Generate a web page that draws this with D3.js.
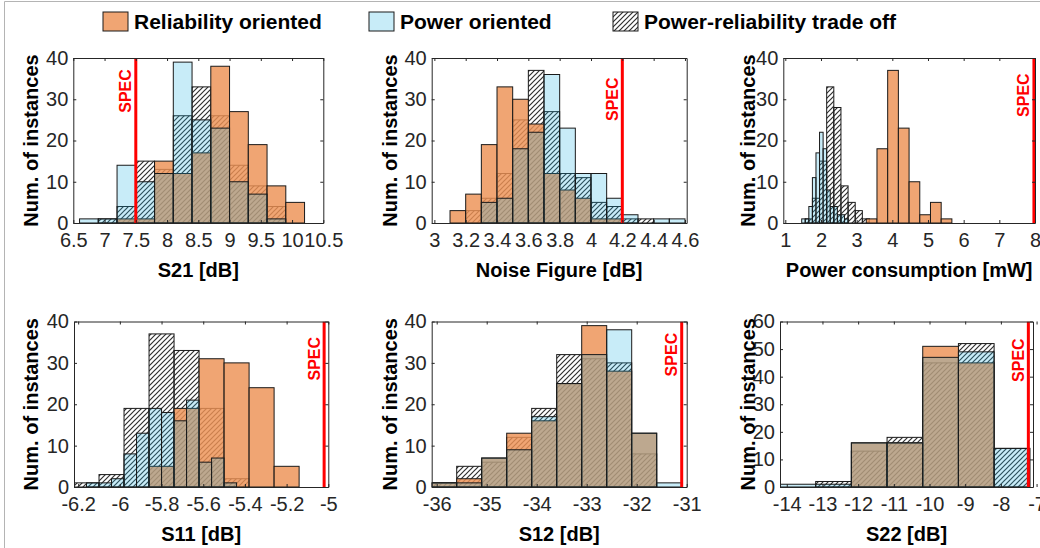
<!DOCTYPE html>
<html>
<head>
<meta charset="utf-8">
<script src="https://cdn.jsdelivr.net/npm/d3@7"></script>
<style>
  body { margin: 0; background: #fff; }
</style>
</head>
<body>
<div id="chart"></div>
<script>
const width = 1040
const height = 548
const font = "'Liberation Sans', Arial, Helvetica, sans-serif"

const seriesNames = ["Reliability oriented", "Power oriented", "Power-reliability trade off"]

const yLabels40 = ["0", "10", "20", "30", "40"]
const yLabels60 = ["0", "10", "20", "30", "40", "50", "60"]

// S21 [dB], 0.3 wide bins from 6.6
const s21Labels = ["6.5", "7", "7.5", "8", "8.5", "9", "9.5", "10", "10.5"]
const s21Rel   = [0, 0, 1, 1, 15, 12, 17, 38, 27, 19, 9, 5]
const s21Pow   = [1, 1, 14, 10, 12, 39, 25, 23, 10, 7, 1, 0]
const s21Trade = [0, 1, 4, 15, 13, 26, 33, 26, 14, 9, 4, 0]
const s21Spec = 7.5

// Noise Figure [dB], 0.1 wide bins from 3.1
const nfLabels = ["3", "3.2", "3.4", "3.6", "3.8", "4", "4.2", "4.4", "4.6"]
const nfRel   = [3, 7, 19, 33, 30, 24, 12, 8, 6, 1, 1, 0, 0, 0, 0]
const nfPow   = [0, 0, 5, 6, 18, 22, 36, 23, 12, 12, 6, 2, 0, 1, 1]
const nfTrade = [0, 3, 6, 12, 25, 37, 27, 12, 11, 5, 4, 1, 1, 0, 0]
const nfSpec = 4.2

// Power consumption [mW], each series has its own bins
const pcLabels = ["1", "2", "3", "4", "5", "6", "7", "8"]
const pcRel   = [1, 18, 37, 23, 10, 2, 5, 1]                   // 0.3 from 3.27
const pcPow   = [1, 1, 4, 11, 17, 22, 18, 8, 4, 4, 2, 2, 1]     // 0.1 from 1.46
const pcTrade = [1, 6, 15, 33, 28, 9, 5, 3, 1]                 // 0.2 from 1.56
const pcSpec = 7.97

// S11 [dB]
const s11Labels = ["-6.2", "-6", "-5.8", "-5.6", "-5.4", "-5.2", "-5"]
const s11Rel   = [5, 19, 31, 30, 24, 5]                         // 0.12 from -5.86
const s11Pow   = [0, 1, 1, 2, 8, 13, 19, 18, 16, 21, 6, 7, 1]   // 0.06 from -6.22
const s11Trade = [1, 3, 19, 37, 33, 19, 2]                      // 0.12 from -6.22
const s11Spec = -5.02

// S12 [dB], 0.5 wide bins from -36.1
const s12Labels = ["-36", "-35", "-34", "-33", "-32", "-31"]
const s12Rel   = [1, 2, 7, 13, 16, 25, 39, 28, 13, 0]
const s12Pow   = [1, 1, 7, 9, 17, 25, 32, 38, 13, 1]
const s12Trade = [1, 5, 6, 12, 19, 32, 31, 30, 8, 0]
const s12Spec = -31.1

// S22 [dB], 1.0 wide bins from -14.19
const s22Labels = ["-14", "-13", "-12", "-11", "-10", "-9", "-8", "-7"]
const s22Rel   = [0, 0, 16, 16, 51, 45, 0]
const s22Pow   = [1, 1, 16, 16, 47, 49, 14]
const s22Trade = [0, 2, 13, 18, 45, 52, 14]
const s22Spec = -7.23

const bins = (start, w, counts) =>
  counts.map((n, i) => ({x0: start + i * w, x1: start + (i + 1) * w, n}))

const panels = [
  {box: [73.3, 323.3, 58, 223], xDomain: [6.5, 10.5], xLabels: s21Labels, yLabels: yLabels40,
   title: "S21 [dB]", spec: s21Spec, specY: 32, ylabX: 38,
   series: [{kind: "trade", start: 6.6, w: 0.3, n: s21Trade},
            {kind: "rel", start: 6.6, w: 0.3, n: s21Rel},
            {kind: "pow", start: 6.6, w: 0.3, n: s21Pow}]},
  {box: [431.7, 686.7, 58, 223], xDomain: [2.983, 4.611], xLabels: nfLabels, yLabels: yLabels40,
   title: "Noise Figure [dB]", spec: nfSpec, specY: 30, ylabX: 397,
   series: [{kind: "trade", start: 3.1, w: 0.1, n: nfTrade},
            {kind: "rel", start: 3.1, w: 0.1, n: nfRel},
            {kind: "pow", start: 3.1, w: 0.1, n: nfPow}]},
  {box: [783.3, 1035, 58, 223], xDomain: [0.944, 8], xLabels: pcLabels, yLabels: yLabels40,
   title: "Power consumption [mW]", spec: pcSpec, specY: 31, ylabX: 755,
   series: [{kind: "trade", start: 1.56, w: 0.2, n: pcTrade},
            {kind: "rel", start: 3.27, w: 0.3, n: pcRel},
            {kind: "pow", start: 1.46, w: 0.1, n: pcPow}]},
  {box: [74, 328.3, 321.5, 487], xDomain: [-6.22, -5.0], xLabels: s11Labels, yLabels: yLabels40,
   title: "S11 [dB]", spec: s11Spec, specY: 31, ylabX: 38,
   series: [{kind: "trade", start: -6.22, w: 0.12, n: s11Trade},
            {kind: "rel", start: -5.86, w: 0.12, n: s11Rel},
            {kind: "pow", start: -6.22, w: 0.06, n: s11Pow}]},
  {box: [431.7, 686.7, 321.5, 487], xDomain: [-36.1, -31], xLabels: s12Labels, yLabels: yLabels40,
   title: "S12 [dB]", spec: s12Spec, specY: 32, ylabX: 397,
   series: [{kind: "trade", start: -36.1, w: 0.5, n: s12Trade},
            {kind: "rel", start: -36.1, w: 0.5, n: s12Rel},
            {kind: "pow", start: -36.1, w: 0.5, n: s12Pow}]},
  {box: [780, 1033, 321.5, 487], xDomain: [-14.19, -7.1], xLabels: s22Labels, yLabels: yLabels60,
   title: "S22 [dB]", spec: s22Spec, specY: 46, ylabX: 755,
   series: [{kind: "trade", start: -14.19, w: 1, n: s22Trade},
            {kind: "rel", start: -14.19, w: 1, n: s22Rel},
            {kind: "pow", start: -14.19, w: 1, n: s22Pow}]}
]

const svg = d3.select("#chart").append("svg")
  .attr("width", width)
  .attr("height", height)
  .style("font-family", font)

const defs = svg.append("defs")
defs.append("pattern")
  .attr("id", "hatch")
  .attr("patternUnits", "userSpaceOnUse")
  .attr("width", 5).attr("height", 5)
  .append("path")
  .attr("d", "M-1,1 l2,-2 M0,5 l5,-5 M4,6 l2,-2")
  .attr("stroke", "#303030")
  .attr("stroke-width", 1.2)

// trade off hatch sits at the bottom, orange covers it, light blue is a thin wash on top
const styles = {
  trade: s => s.attr("fill", "url(#hatch)").attr("stroke", "#1a1a1a").attr("stroke-width", 1),
  rel: s => s.attr("fill", "rgb(237,145,84)").attr("fill-opacity", 0.82).attr("stroke", "#1a1a1a").attr("stroke-width", 1),
  pow: s => s.attr("fill", "rgb(35,179,227)").attr("fill-opacity", 0.25).attr("stroke", "#1a1a1a").attr("stroke-width", 1)
}

// frame lines at top / left of the figure
svg.append("line").attr("x1", 4.5).attr("x2", width).attr("y1", 1.5).attr("y2", 1.5)
  .attr("stroke", "#b4b4b4")
svg.append("line").attr("x1", 4.5).attr("x2", 4.5).attr("y1", 1.5).attr("y2", height)
  .attr("stroke", "#b4b4b4")

// legend
const legendX = [103, 369, 613]
const legendKinds = ["rel", "pow", "trade"]
seriesNames.forEach((name, i) => {
  svg.append("rect")
    .attr("x", legendX[i]).attr("y", 12)
    .attr("width", 25).attr("height", 19)
    .call(styles[legendKinds[i]])
  svg.append("text")
    .attr("x", legendX[i] + 31).attr("y", 29)
    .attr("font-size", 21).attr("font-weight", "bold")
    .attr("fill", "#000")
    .text(name)
})

function axis(gen, tr) {
  const g = svg.append("g").attr("transform", tr).call(gen)
  g.attr("font-family", font).attr("font-size", 20).attr("color", "#262626")
  g.selectAll(".tick text").attr("fill", "#262626")
  return g
}

panels.forEach((p, k) => {
  const [bx0, bx1, by0, by1] = p.box
  const yMax = +p.yLabels[p.yLabels.length - 1]
  const x = d3.scaleLinear().domain(p.xDomain).range([bx0, bx1])
  const y = d3.scaleLinear().domain([0, yMax]).range([by1, by0])
  const xt = p.xLabels.map(Number)
  const yt = p.yLabels.map(Number)

  defs.append("clipPath").attr("id", "clip" + k)
    .append("rect")
    .attr("x", bx0).attr("y", by0)
    .attr("width", bx1 - bx0).attr("height", by1 - by0)

  const plot = svg.append("g").attr("clip-path", `url(#clip${k})`)

  p.series.forEach(s => {
    plot.append("g")
      .selectAll("rect")
      .data(bins(s.start, s.w, s.n).filter(d => d.n > 0))
      .join("rect")
      .attr("x", d => x(d.x0))
      .attr("width", d => x(d.x1) - x(d.x0))
      .attr("y", d => y(d.n))
      .attr("height", d => y(0) - y(d.n))
      .call(styles[s.kind])
  })

  plot.append("line")
    .attr("x1", x(p.spec)).attr("x2", x(p.spec))
    .attr("y1", by0).attr("y2", by1)
    .attr("stroke", "#ff0000")
    .attr("stroke-width", 3)

  svg.append("text")
    .attr("transform", `translate(${x(p.spec) - 4.5},${y(p.specY)}) rotate(-90)`)
    .attr("text-anchor", "middle")
    .attr("font-size", 16)
    .attr("font-weight", "bold")
    .attr("fill", "#ff0000")
    .text("SPEC")

  axis(d3.axisBottom(x).tickValues(xt).tickFormat((d, i) => p.xLabels[i])
    .tickSizeInner(-3).tickSizeOuter(0).tickPadding(10), `translate(0,${by1})`)
  axis(d3.axisTop(x).tickValues(xt).tickFormat("")
    .tickSizeInner(-3).tickSizeOuter(0), `translate(0,${by0})`)
  axis(d3.axisLeft(y).tickValues(yt).tickFormat((d, i) => p.yLabels[i])
    .tickSizeInner(-3).tickSizeOuter(0).tickPadding(5), `translate(${bx0},0)`)
  axis(d3.axisRight(y).tickValues(yt).tickFormat("")
    .tickSizeInner(-3).tickSizeOuter(0), `translate(${bx1},0)`)

  svg.append("text")
    .attr("x", (bx0 + bx1) / 2).attr("y", by1 + 54)
    .attr("text-anchor", "middle")
    .attr("font-size", 20).attr("font-weight", "bold")
    .attr("fill", "#000")
    .text(p.title)

  svg.append("text")
    .attr("transform", `translate(${p.ylabX},${(by0 + by1) / 2}) rotate(-90)`)
    .attr("text-anchor", "middle")
    .attr("font-size", 20).attr("font-weight", "bold")
    .attr("fill", "#000")
    .text("Num. of instances")
})
</script>
</body>
</html>
